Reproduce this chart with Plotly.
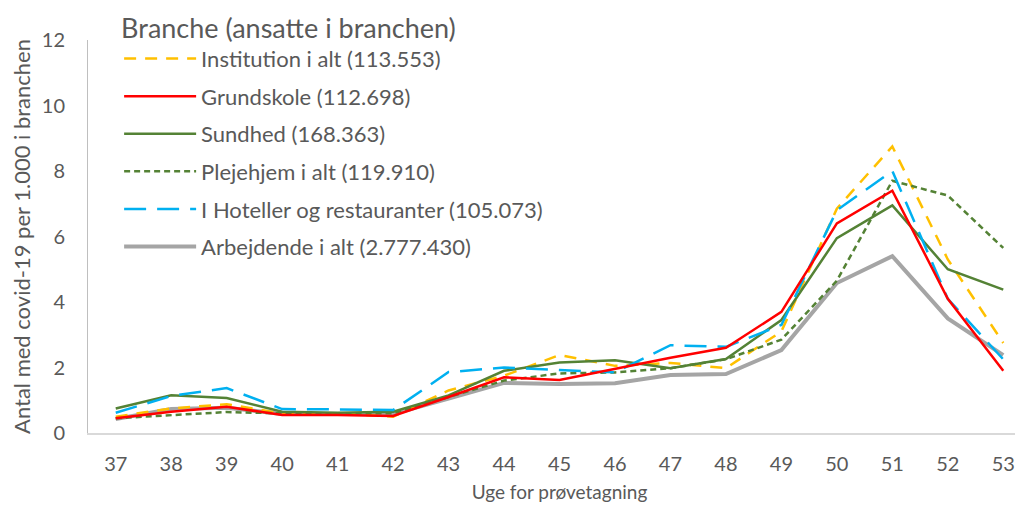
import plotly.graph_objects as go

weeks = [37, 38, 39, 40, 41, 42, 43, 44, 45, 46, 47, 48, 49, 50, 51, 52, 53]

institution = [0.50, 0.75, 0.88, 0.60, 0.60, 0.50, 1.30, 1.75, 2.38, 2.05, 2.14, 1.98, 3.10, 6.85, 8.75, 5.30, 2.75]
grundskole = [0.45, 0.65, 0.80, 0.55, 0.55, 0.52, 1.10, 1.70, 1.62, 1.95, 2.30, 2.60, 3.70, 6.40, 7.40, 4.10, 1.90]
sundhed = [0.75, 1.15, 1.07, 0.65, 0.62, 0.65, 1.15, 1.90, 2.15, 2.22, 1.98, 2.26, 3.45, 5.95, 6.95, 5.00, 4.38]
plejehjem = [0.45, 0.55, 0.64, 0.60, 0.60, 0.60, 1.10, 1.60, 1.82, 1.85, 1.98, 2.25, 2.85, 4.65, 7.70, 7.25, 5.65]
hoteller = [0.62, 1.13, 1.37, 0.73, 0.72, 0.70, 1.86, 2.00, 1.92, 1.85, 2.68, 2.63, 3.30, 6.80, 8.00, 4.10, 2.25]
arbejdende = [0.43, 0.73, 0.77, 0.58, 0.58, 0.58, 1.05, 1.53, 1.50, 1.52, 1.77, 1.80, 2.53, 4.58, 5.40, 3.50, 2.38]

names = [
    "Institution i alt (113.553)",
    "Grundskole (112.698)",
    "Sundhed (168.363)",
    "Plejehjem i alt (119.910)",
    "I Hoteller og restauranter (105.073)",
    "Arbejdende i alt (2.777.430)",
]
y_ticks = [0, 2, 4, 6, 8, 10, 12]

FONT = "Lato"
TXT = "#595959"

fig = go.Figure()

series = [
    (arbejdende, names[5], dict(color="#A5A5A5", width=4, dash="solid"), 6),
    (institution, names[0], dict(color="#FFC000", width=2.5, dash="12px,9px"), 1),
    (plejehjem, names[3], dict(color="#548235", width=2.5, dash="6px,4px"), 4),
    (sundhed, names[2], dict(color="#548235", width=2.5, dash="solid"), 3),
    (hoteller, names[4], dict(color="#00B0F0", width=2.5, dash="22px,11px"), 5),
    (grundskole, names[1], dict(color="#FF0000", width=2.5, dash="solid"), 2),
]
for vals, nm, ln, rank in series:
    fig.add_trace(go.Scatter(
        x=weeks, y=vals, name=nm, mode="lines", line=ln,
        legendrank=rank, legendgroup=nm,
    ))

fig.update_layout(
    width=1023, height=514,
    margin=dict(l=80, r=0, t=32, b=89, autoexpand=False),
    paper_bgcolor="white", plot_bgcolor="white",
    font=dict(family=FONT, color=TXT, size=20),
    showlegend=True,
    legend=dict(
        x=0.033, y=1.095, xanchor="left", yanchor="top",
        bgcolor="rgba(0,0,0,0)",
        font=dict(size=22, color=TXT, family=FONT),
        title=dict(text="Branche (ansatte i branchen)", font=dict(size=27, color=TXT, family=FONT)),
        tracegroupgap=6,
        itemwidth=72,
        maxheight=480,
    ),
    xaxis=dict(
        range=[36.5, 53.5],
        tickmode="array", tickvals=weeks, ticktext=[str(w) for w in weeks],
        showgrid=False, zeroline=False,
        showline=True, linecolor="#D9D9D9", linewidth=1.5,
        ticks="", ticklabelstandoff=12,
        tickfont=dict(size=20, color=TXT),
        title=dict(text="Uge for prøvetagning", font=dict(size=19, color=TXT), standoff=12),
    ),
    yaxis=dict(
        range=[0, 12],
        tickmode="array", tickvals=y_ticks,
        showgrid=False, zeroline=False,
        showline=True, linecolor="#BFBFBF", linewidth=1,
        ticks="", ticklabelstandoff=18,
        tickfont=dict(size=20, color=TXT),
        title=dict(text="Antal med covid-19 per 1.000 i branchen", font=dict(size=22, color=TXT), standoff=8),
    ),
)

fig.write_html("out.html")
